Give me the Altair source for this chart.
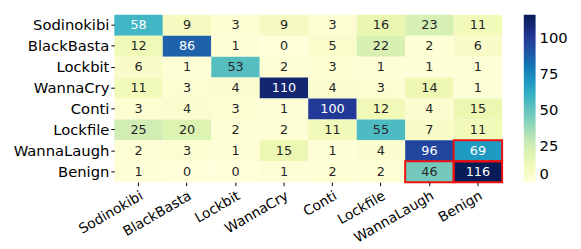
import altair as alt
import pandas as pd

classes = ["Sodinokibi", "BlackBasta", "Lockbit", "WannaCry", "Conti", "Lockfile", "WannaLaugh", "Benign"]
matrix = [
    [58, 9, 3, 9, 3, 16, 23, 11],
    [12, 86, 1, 0, 5, 22, 2, 6],
    [6, 1, 53, 2, 3, 1, 1, 1],
    [11, 3, 4, 110, 4, 3, 14, 1],
    [3, 4, 3, 1, 100, 12, 4, 15],
    [25, 20, 2, 2, 11, 55, 7, 11],
    [2, 3, 1, 15, 1, 4, 96, 69],
    [1, 0, 0, 1, 2, 2, 46, 116],
]
highlight = [("WannaLaugh", "Benign"), ("Benign", "WannaLaugh"), ("Benign", "Benign")]

ylgnbu = ["#ffffd9", "#edf8b1", "#c7e9b4", "#7fcdbb", "#41b6c4",
          "#1d91c0", "#225ea8", "#253494", "#081d58"]
vmax = 116
stops = [vmax * k / 8 for k in range(9)]

rows = []
for i, r in enumerate(classes):
    for j, c in enumerate(classes):
        rows.append({"true": r, "pred": c, "v": matrix[i][j],
                     "hl": (r, c) in highlight})
df = pd.DataFrame(rows)

font = "DejaVu Sans"
x = alt.X("pred:N", sort=classes, title=None,
          axis=alt.Axis(labelAngle=-30, labelAlign="right", labelBaseline="top",
                        labelFontSize=14, labelFont=font, labelColor="black",
                        tickColor="black", tickSize=3.5, domain=False, labelPadding=3))
y = alt.Y("true:N", sort=classes, title=None,
          axis=alt.Axis(labelFontSize=15, labelFont=font, labelColor="black",
                        tickColor="black", tickSize=3.5, domain=False, labelPadding=2))

base = alt.Chart(df).encode(x=x, y=y)

rect = base.mark_rect().encode(
    color=alt.Color("v:Q", scale=alt.Scale(domain=stops, range=ylgnbu),
                    legend=alt.Legend(title=None, gradientLength=170, gradientThickness=12,
                                      values=[0, 25, 50, 75, 100], labelFontSize=15,
                                      labelFont=font, labelColor="black", offset=22,
                                      gradientStrokeWidth=0, labelOffset=4))
)
text = base.mark_text(fontSize=13, font=font).encode(
    text="v:Q",
    color=alt.condition("datum.v > 57", alt.value("white"), alt.value("#262626"))
)
box = base.transform_filter("datum.hl").mark_rect(
    fill=None, stroke="#ee1111", strokeWidth=2
)

chart = (rect + text + box).properties(width=394, height=170).configure_view(stroke=None)
chart.save("out.html", embed_options={"renderer": "svg", "actions": False})
